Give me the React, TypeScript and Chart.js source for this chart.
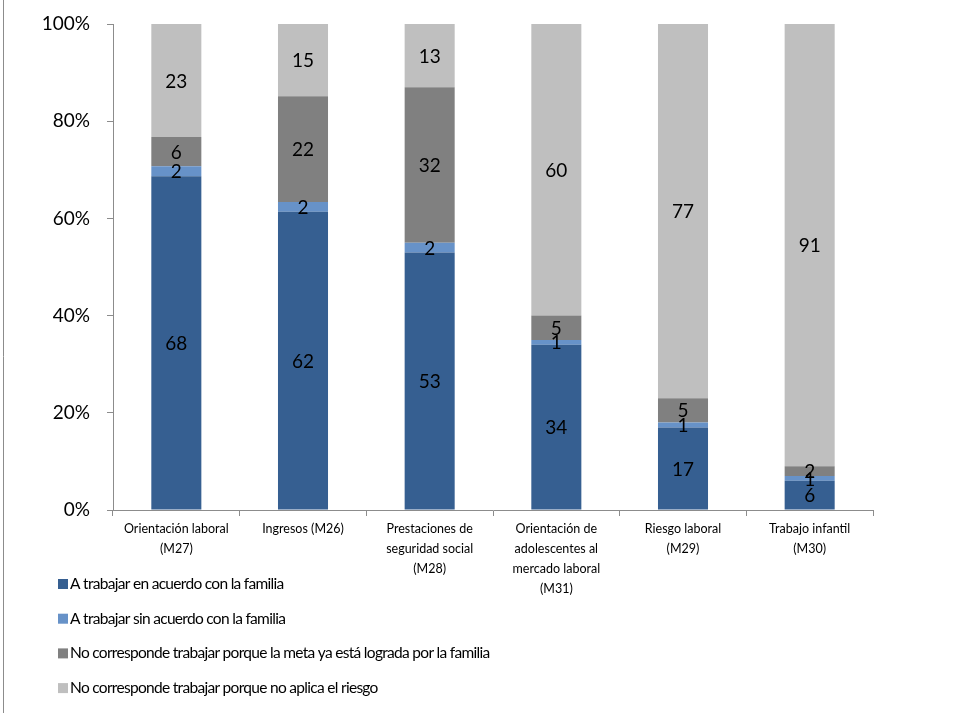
import React, { useEffect, useRef } from "react";
import { Chart, registerables } from "chart.js";

Chart.register(...registerables);

const categories: string[][] = [
  ["Orientación laboral", "(M27)"],
  ["Ingresos (M26)"],
  ["Prestaciones de", "seguridad social", "(M28)"],
  ["Orientación de", "adolescentes al", "mercado laboral", "(M31)"],
  ["Riesgo laboral", "(M29)"],
  ["Trabajo infantil", "(M30)"],
];

const seriesNames = [
  "A trabajar en acuerdo con la familia",
  "A trabajar sin acuerdo con la familia",
  "No corresponde trabajar porque la meta ya está lograda por la familia",
  "No corresponde trabajar porque no aplica el riesgo",
];

const conAcuerdo = [68, 62, 53, 34, 17, 6];
const sinAcuerdo = [2, 2, 2, 1, 1, 1];
const metaLograda = [6, 22, 32, 5, 5, 2];
const noAplica = [23, 15, 13, 60, 77, 91];

const seriesColors = ["#365F91", "#6792C8", "#808080", "#BFBFBF"];

const yTicks = [0, 20, 40, 60, 80, 100];

const FONT = "Lato, 'Open Sans', sans-serif";

const rawSeries = [conAcuerdo, sinAcuerdo, metaLograda, noAplica];
const totals = categories.map((_, i) => rawSeries.reduce((s, arr) => s + arr[i], 0));

const labelPlugin = {
  id: "segLabels",
  afterDatasetsDraw(chart: any) {
    const ctx = chart.ctx;
    ctx.save();
    ctx.font = `19px ${FONT}`;
    ctx.fillStyle = "#000";
    ctx.textAlign = "center";
    ctx.textBaseline = "middle";
    chart.data.datasets.forEach((ds: any, di: number) => {
      const meta = chart.getDatasetMeta(di);
      meta.data.forEach((bar: any, i: number) => {
        ctx.fillText(String(ds.raw[i]), bar.x, (bar.y + bar.base) / 2 + 1);
      });
    });
    ctx.restore();
  },
};

const legendPlugin = {
  id: "vertLegend",
  afterDraw(chart: any) {
    const ctx = chart.ctx;
    ctx.save();
    ctx.strokeStyle = "#8c8c8c";
    ctx.lineWidth = 1;
    ctx.beginPath();
    ctx.moveTo(3.5, 0);
    ctx.lineTo(3.5, chart.height);
    ctx.stroke();

    ctx.font = `15.5px ${FONT}`;
    try {
      (ctx as any).letterSpacing = "-0.7px";
    } catch (e) {}
    ctx.textBaseline = "middle";
    ctx.textAlign = "left";
    chart.data.datasets.forEach((ds: any, i: number) => {
      const y = 584 + i * 34.7;
      ctx.fillStyle = ds.backgroundColor;
      ctx.fillRect(58, y - 5, 10, 10);
      ctx.fillStyle = "#000";
      ctx.fillText(ds.label, 70, y);
    });
    try {
      (ctx as any).letterSpacing = "0px";
    } catch (e) {}
    ctx.restore();
  },
};

export default function App() {
  const ref = useRef<HTMLCanvasElement>(null);

  useEffect(() => {
    document.body.style.margin = "0";
    const canvas = ref.current;
    if (!canvas) return;
    const datasets = rawSeries.map((arr, si) => ({
      label: seriesNames[si],
      raw: arr,
      data: arr.map((v, i) => (v / totals[i]) * 100),
      backgroundColor: seriesColors[si],
      borderWidth: 0,
      categoryPercentage: 1,
      barPercentage: 0.395,
    }));
    const chart = new Chart(canvas, {
      type: "bar",
      data: { labels: categories as any, datasets: datasets as any },
      options: {
        animation: false,
        responsive: false,
        maintainAspectRatio: false,
        layout: { padding: { top: 24, right: 106, left: 0, bottom: 0 } },
        plugins: { legend: { display: false }, tooltip: { enabled: false } },
        scales: {
          x: {
            stacked: true,
            grid: {
              display: true,
              drawOnChartArea: false,
              drawTicks: true,
              tickLength: 6,
              color: "#8c8c8c",
              offset: true,
            },
            border: { display: true, color: "#8c8c8c" },
            ticks: {
              color: "#000",
              font: { family: FONT, size: 12.5, lineHeight: 1.6 },
              maxRotation: 0,
              autoSkip: false,
              padding: 3,
            },
            afterFit(scale: any) {
              scale.height = 203;
              scale.paddingLeft = 0;
              scale.paddingRight = 0;
            },
          },
          y: {
            stacked: true,
            min: 0,
            max: 100,
            afterBuildTicks(scale: any) {
              scale.ticks = yTicks.map((v) => ({ value: v }));
            },
            grid: {
              display: true,
              drawOnChartArea: false,
              drawTicks: true,
              tickLength: 6,
              color: "#8c8c8c",
            },
            border: { display: true, color: "#8c8c8c" },
            ticks: {
              color: "#000",
              font: { family: FONT, size: 19 },
              padding: 17,
              callback: (v: any) => `${v}%`,
            },
            afterFit(scale: any) {
              scale.width = 113;
              scale.paddingTop = 0;
              scale.paddingBottom = 0;
            },
          },
        },
      },
      plugins: [labelPlugin, legendPlugin],
    });
    return () => chart.destroy();
  }, []);

  return (
    <div style={{ width: 979, height: 713, background: "#fff" }}>
      <canvas ref={ref} width={979} height={713} style={{ display: "block" }} />
    </div>
  );
}
